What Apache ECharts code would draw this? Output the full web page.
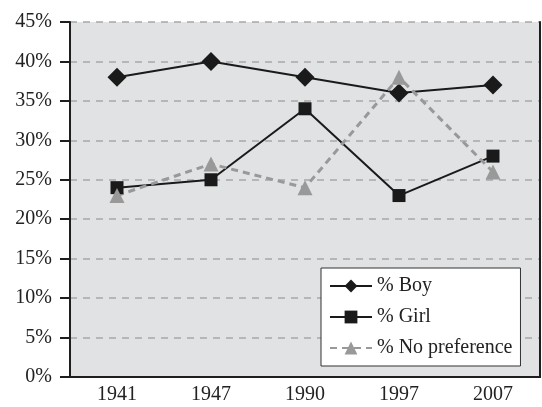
<!DOCTYPE html>
<html>
<head>
<meta charset="utf-8">
<script src="https://cdn.jsdelivr.net/npm/echarts@6/dist/echarts.min.js"></script>
<style>
  html, body { margin: 0; padding: 0; background: #fff; }
  #chart { width: 542px; height: 407px; }
</style>
</head>
<body>
<div id="chart"></div>
<script>
var years = ['1941', '1947', '1990', '1997', '2007'];
var boy = [38, 40, 38, 36, 37];
var girl = [24, 25, 34, 23, 28];
var noPref = [23, 27, 24, 38, 26];

var serif = 'Liberation Serif';
var ink = '#1e1e1e';
var chart = echarts.init(document.getElementById('chart'));

// plain frame axes for the top and right border lines
var frameAxis = {
  axisLine: { show: true, lineStyle: { color: ink, width: 2 } },
  axisTick: { show: false },
  axisLabel: { show: false },
  splitLine: { show: false }
};

var option = {
  animation: false,
  grid: {
    left: 70, right: 2, top: 22, bottom: 30,
    show: true,
    backgroundColor: '#e1e2e3',
    borderWidth: 0
  },
  legend: {
    orient: 'vertical',
    left: 321,
    top: 268,
    itemWidth: 42,
    itemHeight: 16,
    itemGap: 11,
    padding: [8, 8, 8, 8],
    backgroundColor: '#fff',
    borderColor: '#333',
    borderWidth: 1,
    textStyle: { fontFamily: serif, fontSize: 20, color: '#222' },
    data: ['% Boy', '% Girl', '% No preference']
  },
  xAxis: [
    {
      type: 'category',
      data: years,
      boundaryGap: true,
      axisLine: { lineStyle: { color: ink, width: 2 } },
      axisTick: { length: 8, lineStyle: { color: ink, width: 2 } },
      axisLabel: { fontFamily: serif, fontSize: 20, color: '#222', margin: 8 }
    },
    Object.assign({ type: 'category', data: years, position: 'top' }, frameAxis)
  ],
  yAxis: [
    {
      type: 'value',
      min: 0, max: 45, interval: 5,
      axisLine: { show: true, lineStyle: { color: ink, width: 2 } },
      axisTick: { show: true, length: 10, lineStyle: { color: ink, width: 2 } },
      axisLabel: { fontFamily: serif, fontSize: 20, color: '#222', margin: 18, formatter: '{value}%' },
      splitLine: { lineStyle: { color: '#a8a8a8', type: [7, 6], width: 1.5 } }
    },
    Object.assign({ type: 'value', min: 0, max: 45, position: 'right' }, frameAxis)
  ],
  series: [
    {
      name: '% Boy', type: 'line', data: boy,
      symbol: 'diamond', symbolSize: 19,
      itemStyle: { color: '#1a1a1a' },
      lineStyle: { color: '#1a1a1a', width: 2 }
    },
    {
      name: '% Girl', type: 'line', data: girl,
      symbol: 'rect', symbolSize: 13,
      itemStyle: { color: '#1a1a1a' },
      lineStyle: { color: '#1a1a1a', width: 2 }
    },
    {
      name: '% No preference', type: 'line', data: noPref,
      symbol: 'triangle', symbolSize: 15,
      itemStyle: { color: '#999' },
      lineStyle: { color: '#999', width: 3, type: [7, 5] }
    }
  ]
};
chart.setOption(option);
</script>
</body>
</html>
